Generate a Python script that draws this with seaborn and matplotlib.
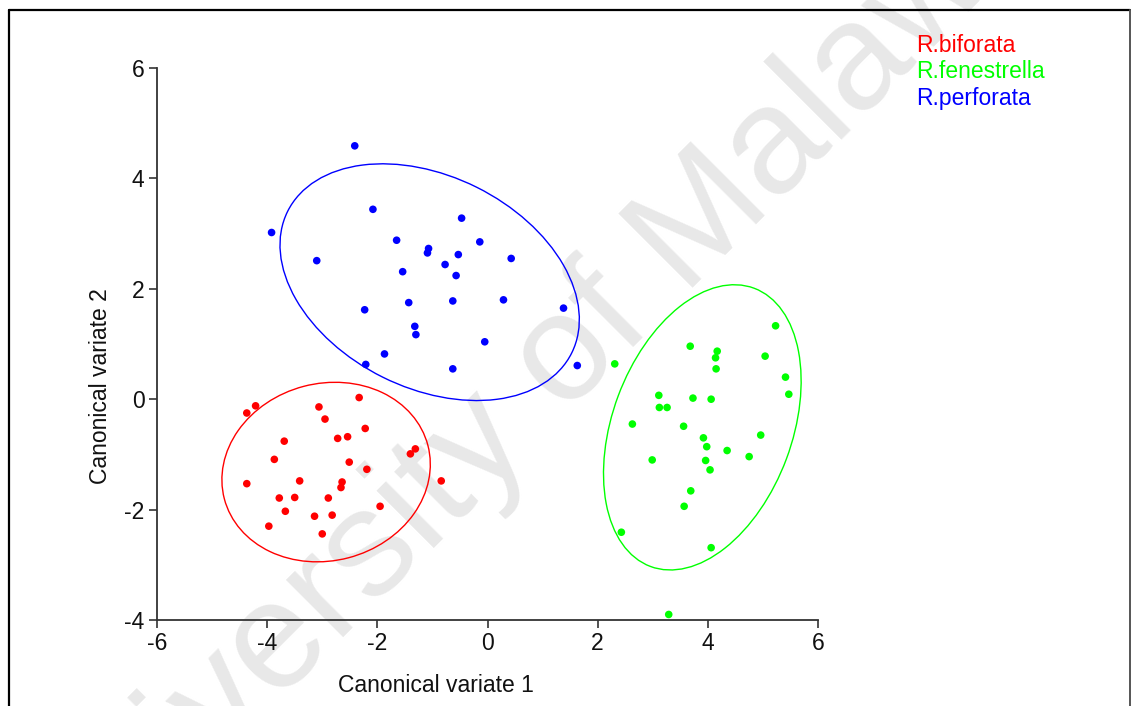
import matplotlib
matplotlib.use("Agg")
import matplotlib.pyplot as plt
from matplotlib.patches import Ellipse
from matplotlib.lines import Line2D
import seaborn as sns
import pandas as pd

# ---- data ----
species = ["R.biforata", "R.fenestrella", "R.perforata"]
colors = ["#ff0000", "#00ff00", "#0000ff"]

biforata_x = [-4.37, -4.21, -3.06, -2.33, -2.95, -3.69, -2.72, -2.54, -2.22, -1.31,
              -1.40, -3.87, -2.51, -2.19, -4.37, -3.41, -2.64, -2.66, -0.84, -3.78,
              -3.50, -2.89, -3.67, -1.95, -3.14, -2.82, -3.97, -3.00]
biforata_y = [-0.25, -0.12, -0.14, 0.03, -0.36, -0.76, -0.71, -0.68, -0.53, -0.90,
              -0.99, -1.09, -1.14, -1.27, -1.53, -1.48, -1.50, -1.60, -1.48, -1.79,
              -1.78, -1.79, -2.03, -1.94, -2.12, -2.10, -2.30, -2.44]

fenestrella_x = [5.23, 3.68, 4.17, 4.14, 5.04, 2.31, 4.15, 5.41, 5.47, 3.11,
                 3.73, 4.06, 3.12, 3.26, 2.63, 3.56, 3.92, 4.96, 3.98, 4.35,
                 4.75, 2.99, 3.96, 4.04, 3.69, 3.57, 2.43, 4.06, 3.29]
fenestrella_y = [1.33, 0.96, 0.87, 0.75, 0.78, 0.64, 0.55, 0.40, 0.09, 0.07,
                 0.02, 0.00, -0.15, -0.15, -0.45, -0.49, -0.70, -0.65, -0.86, -0.93,
                 -1.04, -1.10, -1.11, -1.28, -1.66, -1.94, -2.41, -2.69, -3.90]

perforata_x = [-2.41, -2.08, -3.92, -0.47, -1.65, -0.14, -1.07, -1.09, -3.10, -0.53,
               0.43, -0.77, -1.54, -0.57, -2.23, -1.43, -0.63, 0.29, 1.38, -1.32,
               -1.30, -0.05, -1.87, -2.21, -0.63, 1.63]
perforata_y = [4.59, 3.44, 3.02, 3.28, 2.88, 2.85, 2.73, 2.65, 2.51, 2.62,
               2.55, 2.44, 2.31, 2.24, 1.62, 1.75, 1.78, 1.80, 1.65, 1.32,
               1.17, 1.04, 0.82, 0.63, 0.55, 0.61]

# ellipses: centre x, centre y, width, height, angle (deg)
ell_cx = [-2.93, 3.90, -1.05]
ell_cy = [-1.32, -0.51, 2.12]
ell_w = [3.82, 5.38, 5.76]
ell_h = [3.21, 3.26, 3.84]
ell_ang = [14.7, 69.5, -26.4]

xticks = [-6, -4, -2, 0, 2, 4, 6]
yticks = [-4, -2, 0, 2, 4, 6]
xlabel = "Canonical variate 1"
ylabel = "Canonical variate 2"
watermark = "University of Malawi"

# ---- frame ----
df = pd.DataFrame({
    "x": biforata_x + fenestrella_x + perforata_x,
    "y": biforata_y + fenestrella_y + perforata_y,
    "sp": [species[0]] * len(biforata_x) + [species[1]] * len(fenestrella_x)
          + [species[2]] * len(perforata_x),
})

sns.set_style("ticks")
plt.rcParams["font.family"] = ["Liberation Sans", "DejaVu Sans"]

W, H = 1131, 706
fig = plt.figure(figsize=(W / 100, H / 100), dpi=100)
fig.patch.set_facecolor("white")

# watermark
fig.text(540 / W, 1 - 440 / H, watermark, rotation=45, rotation_mode="anchor",
         ha="center", va="baseline", fontsize=110, color="#e8e8e8", zorder=-5)

ax = fig.add_axes([157 / W, 1 - 620 / H, (818 - 157) / W, (620 - 68) / H])
ax.patch.set_alpha(0)

sns.scatterplot(data=df, x="x", y="y", hue="sp", palette=dict(zip(species, colors)),
                s=30, edgecolor="none", legend=False, ax=ax, zorder=3, clip_on=False)

for i in range(3):
    e = Ellipse((ell_cx[i], ell_cy[i]), ell_w[i], ell_h[i], angle=ell_ang[i],
                fill=False, edgecolor=colors[i], linewidth=1.0, zorder=2)
    ax.add_patch(e)

ax.set_xlim(-6, 6)
ax.set_ylim(-4, 6)
ax.set_xticks(xticks)
ax.set_yticks(yticks)
ax.set_xticklabels([str(t) for t in xticks])
ax.set_yticklabels([str(t) for t in yticks])
for s in ["top", "right"]:
    ax.spines[s].set_visible(False)
for s in ["left", "bottom"]:
    ax.spines[s].set_color("#333333")
    ax.spines[s].set_linewidth(1.3)
ax.tick_params(direction="out", length=6, width=1.2, color="#333333",
               labelsize=16.5, labelcolor="#111111", pad=3)

ax.set_xlabel(xlabel, fontsize=16.5, color="#111111")
ax.set_ylabel(ylabel, fontsize=16.5, color="#111111")
ax.xaxis.set_label_coords((436 - 157) / (818 - 157), -(686 - 620) / (620 - 68))
ax.yaxis.set_label_coords(-(157 - 101) / (818 - 157), (620 - 386) / (620 - 68))
ax.xaxis.label.set_va("center")
ax.yaxis.label.set_va("center")

# legend text
leg_y = [45, 71, 98]
for i in range(3):
    fig.text(916 / W, 1 - leg_y[i] / H, species[i], color=colors[i], fontsize=16.5,
             ha="left", va="center")

# frame border
fig.add_artist(Line2D([9 / W, 9 / W], [0, 1 - 10 / H], color="black", lw=1.6,
                      transform=fig.transFigure))
fig.add_artist(Line2D([9 / W, 1130 / W], [1 - 10 / H, 1 - 10 / H], color="black", lw=1.6,
                      transform=fig.transFigure))
fig.add_artist(Line2D([1130 / W, 1130 / W], [0, 1 - 10 / H], color="#555555", lw=1.4,
                      transform=fig.transFigure))

fig.savefig("out.png", dpi=100)
